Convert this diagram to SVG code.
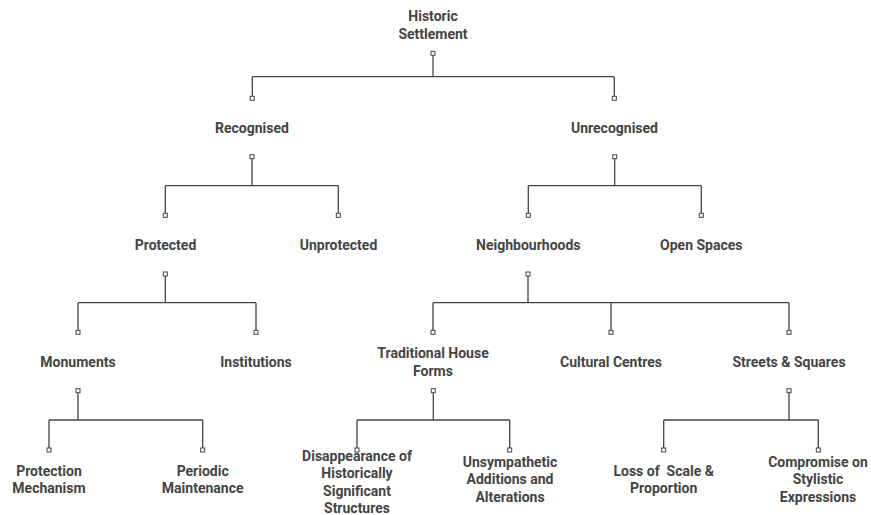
<svg xmlns="http://www.w3.org/2000/svg" width="871" height="515" viewBox="0 0 871 515">
<style>
.t{font-family:Roboto,"Liberation Sans",sans-serif;font-weight:700;font-size:14px;fill:#444;text-anchor:middle;white-space:pre}
.c{fill:none;stroke:#444;stroke-width:1.3}
.s{fill:#fff;stroke:#444;stroke-width:1}
</style>
<rect width="871" height="515" fill="#fff"/>
<g id="connectors">
<path fill="none" stroke="#888" stroke-width="2" d="M433,55V76.7"/>
<path class="c" d="M252.3,76.7H614.3 M252.3,76.7V96 M614.3,76.7V96" />
<path class="c" d="M252,159V185.7 M165.3,185.7H338.3 M165.3,185.7V213 M338.3,185.7V213"/>
<path class="c" d="M614.7,159V185.7 M528.3,185.7H701.3 M528.3,185.7V213 M701.3,185.7V213"/>
<path class="c" d="M165.3,276V302.7 M78,302.7H256 M78,302.7V330 M256,302.7V330"/>
<path class="c" d="M528,276V302.7 M433,302.7H789 M433,302.7V330 M611,302.7V330 M789,302.7V330"/>
<path class="c" d="M78,393V420 M49,420H202.7 M49,420V448 M202.7,420V448"/>
<path class="c" d="M433.3,393V420 M357,420H509.7 M357,420V448 M509.7,420V448"/>
<path class="c" d="M789,393V420 M663.7,420H818.3 M663.7,420V448 M818.3,420V448"/>
<g>
<rect class="s" x="431" y="51.3" width="4" height="4"/>
<rect class="s" x="250.3" y="96.3" width="4" height="4"/>
<rect class="s" x="612.3" y="96.3" width="4" height="4"/>
<rect class="s" x="250" y="154.7" width="4" height="4"/>
<rect class="s" x="163.3" y="213.3" width="4" height="4"/>
<rect class="s" x="336.3" y="213.3" width="4" height="4"/>
<rect class="s" x="612.7" y="154.7" width="4" height="4"/>
<rect class="s" x="526.3" y="213.3" width="4" height="4"/>
<rect class="s" x="699.3" y="213.3" width="4" height="4"/>
<rect class="s" x="163.3" y="272" width="4" height="4"/>
<rect class="s" x="76" y="330.3" width="4" height="4"/>
<rect class="s" x="254" y="330.3" width="4" height="4"/>
<rect class="s" x="526" y="272" width="4" height="4"/>
<rect class="s" x="431" y="330.3" width="4" height="4"/>
<rect class="s" x="609" y="330.3" width="4" height="4"/>
<rect class="s" x="787" y="330.3" width="4" height="4"/>
<rect class="s" x="76" y="388.7" width="4" height="4"/>
<rect class="s" x="47" y="448" width="4" height="4"/>
<rect class="s" x="200.7" y="448" width="4" height="4"/>
<rect class="s" x="431.3" y="388.7" width="4" height="4"/>
<rect class="s" x="355" y="448" width="4" height="4"/>
<rect class="s" x="507.7" y="448" width="4" height="4"/>
<rect class="s" x="787" y="388.7" width="4" height="4"/>
<rect class="s" x="661.7" y="448" width="4" height="4"/>
<rect class="s" x="816.3" y="448" width="4" height="4"/>
</g>
</g>
<g id="n-historic"><text class="t" x="433" y="21">Historic</text><text class="t" x="433" y="38.5">Settlement</text></g>
<g id="n-recognised"><text class="t" x="252" y="132.5">Recognised</text></g>
<g id="n-unrecognised"><text class="t" x="614.5" y="132.5">Unrecognised</text></g>
<g id="n-protected"><text class="t" x="165.5" y="250">Protected</text></g>
<g id="n-unprotected"><text class="t" x="338.5" y="250">Unprotected</text></g>
<g id="n-neighbourhoods"><text class="t" x="528.3" y="250">Neighbourhoods</text></g>
<g id="n-openspaces"><text class="t" x="701.3" y="250">Open Spaces</text></g>
<g id="n-monuments"><text class="t" x="78" y="367">Monuments</text></g>
<g id="n-institutions"><text class="t" x="256" y="367">Institutions</text></g>
<g id="n-traditional"><text class="t" x="433" y="358">Traditional House</text><text class="t" x="433" y="376">Forms</text></g>
<g id="n-cultural"><text class="t" x="611" y="367">Cultural Centres</text></g>
<g id="n-streets"><text class="t" x="789" y="367">Streets &amp; Squares</text></g>
<g id="n-protection"><text class="t" x="49" y="476">Protection</text><text class="t" x="49" y="493">Mechanism</text></g>
<g id="n-periodic"><text class="t" x="202.7" y="476">Periodic</text><text class="t" x="202.7" y="493">Maintenance</text></g>
<g id="n-disappearance"><text class="t" x="357" y="461">Disappearance of</text><text class="t" x="357" y="478.3">Historically</text><text class="t" x="357" y="495.6">Significant</text><text class="t" x="357" y="512.5">Structures</text></g>
<g id="n-unsympathetic"><text class="t" x="510" y="466.5">Unsympathetic</text><text class="t" x="510" y="484">Additions and</text><text class="t" x="510" y="501.5">Alterations</text></g>
<g id="n-loss"><text class="t" x="663.7" y="476">Loss of  Scale &amp;</text><text class="t" x="663.7" y="493">Proportion</text></g>
<g id="n-compromise"><text class="t" x="818" y="466.5">Compromise on</text><text class="t" x="818" y="484">Stylistic</text><text class="t" x="818" y="501.5">Expressions</text></g>
</svg>
